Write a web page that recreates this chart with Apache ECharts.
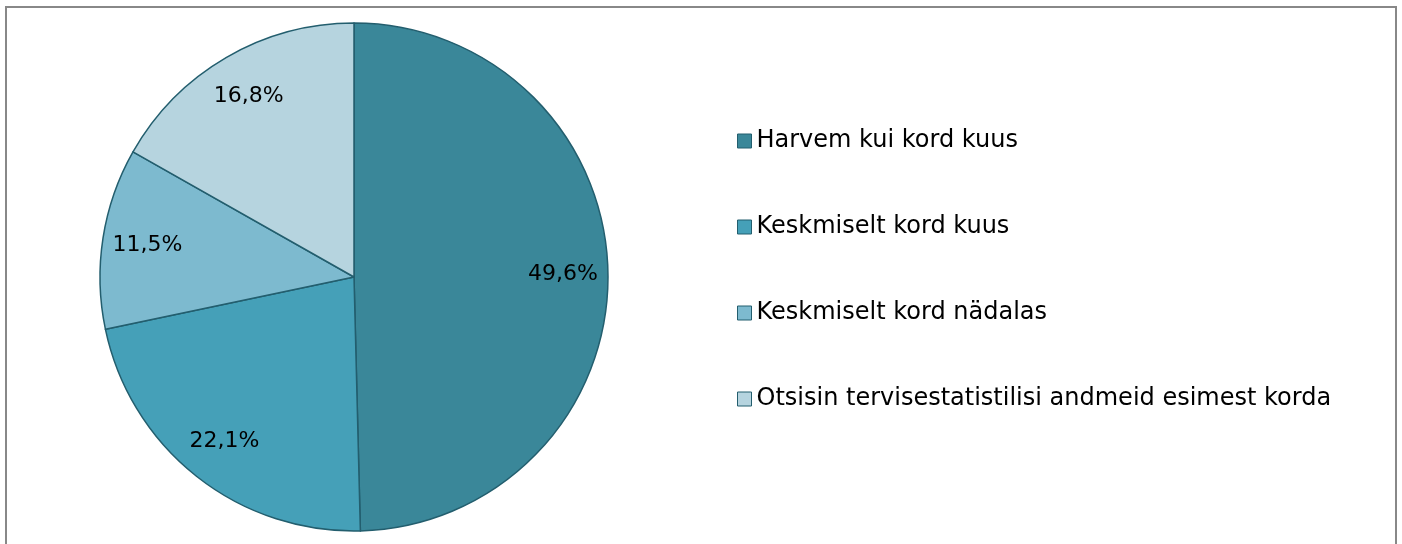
<!DOCTYPE html>
<html>
<head>
<meta charset="utf-8">
<script src="https://cdn.jsdelivr.net/npm/echarts@6/dist/echarts.min.js"></script>
<style>
html,body{margin:0;padding:0;background:#fff;overflow:hidden;}
#pie-wrapper{width:1402px;height:544px;}
</style>
</head>
<body>
<div id="pie-wrapper"></div>
<script>
var categories = ["Harvem kui kord kuus", "Keskmiselt kord kuus", "Keskmiselt kord nädalas", "Otsisin tervisestatistilisi andmeid esimest korda"];
var values = [49.6, 22.1, 11.5, 16.8];
var colors = ["#3a8799", "#45a0b8", "#7dbacf", "#b6d4df"];

function getData(transparent){
	var d = [];
	for(let i=0;i<categories.length;i++){
		d.push({
			name: categories[i],
			value: values[i],
			itemStyle: transparent ? {color:"rgba(0,0,0,0)", borderWidth:0} : {color:colors[i]}
		});
	}
	return d;
}

var myChart = echarts.init(document.getElementById("pie-wrapper"));

var option = {
	animation: false,
	graphic: [{
		type: "rect",
		shape: {x: 6, y: 7, width: 1390, height: 600},
		style: {fill: "none", stroke: "#888", lineWidth: 2},
		silent: true
	}],
	legend: {
		orient: "vertical",
		left: 732,
		top: 124,
		itemWidth: 14,
		itemHeight: 14,
		itemGap: 62,
		icon: "rect",
		itemStyle: {borderColor: "#235e6e", borderWidth: 1},
		textStyle: {fontFamily: "DejaVu Sans", fontSize: 24, color: "#000", lineHeight: 22},
		data: categories
	},
	series: [{
		type: "pie",
		center: [354, 277],
		radius: [0, 254],
		startAngle: 90,
		clockwise: true,
		silent: true,
		itemStyle: {borderColor: "#235e6e", borderWidth: 1.5},
		label: {show: false},
		labelLine: {show: false},
		data: getData(false)
	}, {
		type: "pie",
		center: [354, 277],
		radius: [158, 254],
		startAngle: 90,
		clockwise: true,
		silent: true,
		label: {
			show: true,
			position: "inner",
			fontFamily: "DejaVu Sans",
			fontSize: 22,
			color: "#000",
			formatter: function(p){ return String(p.value).replace(".", ",") + "%"; }
		},
		labelLine: {show: false},
		data: getData(true)
	}]
};

myChart.setOption(option);
</script>
</body>
</html>
